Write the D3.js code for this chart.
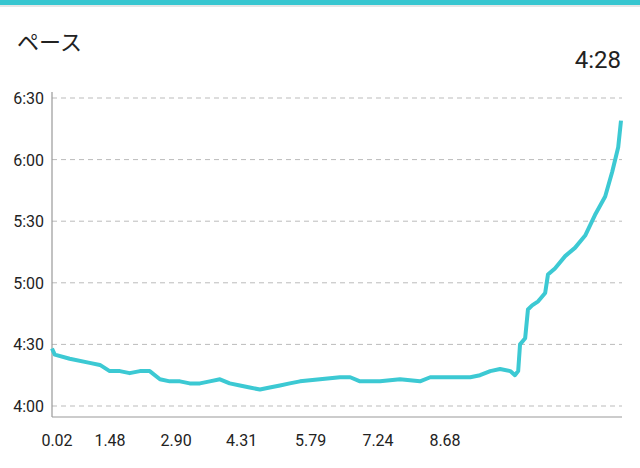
<!DOCTYPE html>
<html><head><meta charset="utf-8">
<script src="https://cdn.jsdelivr.net/npm/d3@7"></script>
<style>body{margin:0;background:#fff;font-family:Roboto,"Noto Sans CJK JP",sans-serif}</style>
</head><body>
<svg id="c" width="640" height="468"></svg>
<script>
// distance (km) and pace (seconds per km)
const dist = [0.24,0.30,0.62,1.05,1.27,1.48,1.70,1.91,2.13,2.34,2.56,2.77,2.99,3.20,3.42,3.63,3.85,4.06,4.28,4.49,4.71,4.92,5.14,5.35,5.57,6.00,6.43,6.65,6.86,7.08,7.29,7.72,8.15,8.37,8.80,9.23,9.44,9.66,9.87,10.09,10.19,10.26,10.30,10.41,10.47,10.56,10.69,10.84,10.90,11.05,11.27,11.48,11.70,11.91,12.13,12.28,12.41,12.47];
const pace = [268,265,263,261,260,257,257,256,257,257,253,252,252,251,251,252,253,251,250,249,248,249,250,251,252,253,254,254,252,252,252,253,252,254,254,254,255,257,258,257,255,257,270,273,287,289,291,295,304,307,313,317,323,333,342,354,366,379];
const yTicks = [240,270,300,330,360,390];
const xTickVals = [0.02,1.48,2.90,4.31,5.79,7.24,8.68];
const title = "ペース", current = "4:28";

const svg = d3.select('#c');
const L = 52, R = 622, T = 98, B = 406;
const x = d3.scaleLinear().domain([0.24, 12.47]).range([L, 621]);
const y = d3.scaleLinear().domain([240, 390]).range([B, T]);
const fmt = s => Math.floor(s/60) + ':' + String(s%60).padStart(2,'0');

// top bar
svg.append('rect').attr('x',0).attr('y',4).attr('width',640).attr('height',3).attr('fill','#e6e6e6');
svg.append('rect').attr('x',0).attr('y',0).attr('width',640).attr('height',5).attr('fill','#37c6d0');

svg.append('text').attr('x',17).attr('y',50).attr('font-size',22).attr('fill','#222')
  .attr('font-family','"Noto Sans CJK JP"').text(title);
svg.append('text').attr('x',621).attr('y',68).attr('text-anchor','end').attr('font-size',24).attr('fill','#222').text(current);

svg.append('g').selectAll('line').data(yTicks).join('line')
  .attr('x1',L).attr('x2',R).attr('y1',d=>y(d)).attr('y2',d=>y(d))
  .attr('stroke','#bbb').attr('stroke-dasharray','5,4');
svg.append('g').selectAll('text').data(yTicks).join('text')
  .attr('x',44).attr('y',d=>y(d)+6).attr('text-anchor','end').attr('font-size',16).attr('fill','#222').text(fmt);

svg.append('line').attr('x1',L).attr('x2',L).attr('y1',92).attr('y2',417).attr('stroke','#999').attr('stroke-width',1.2);
svg.append('line').attr('x1',L).attr('x2',R).attr('y1',417).attr('y2',417).attr('stroke','#999').attr('stroke-width',1.2);

const xs = d3.scaleLinear().domain([1.48, 8.68]).range([110, 445]);
svg.append('g').selectAll('text').data(xTickVals).join('text')
  .attr('x',(d,i)=> i===0 ? 57 : xs(d)).attr('y',446).attr('text-anchor','middle')
  .attr('font-size',16).attr('fill','#222').text(d=>d.toFixed(2));

const pts = dist.map((d,i)=>[d, pace[i]]);
svg.append('path').datum(pts)
  .attr('d', d3.line().x(d=>x(d[0])).y(d=>y(d[1])))
  .attr('fill','none').attr('stroke','#3cc9d3').attr('stroke-width',4).attr('stroke-linejoin','round');
</script>
</body></html>
